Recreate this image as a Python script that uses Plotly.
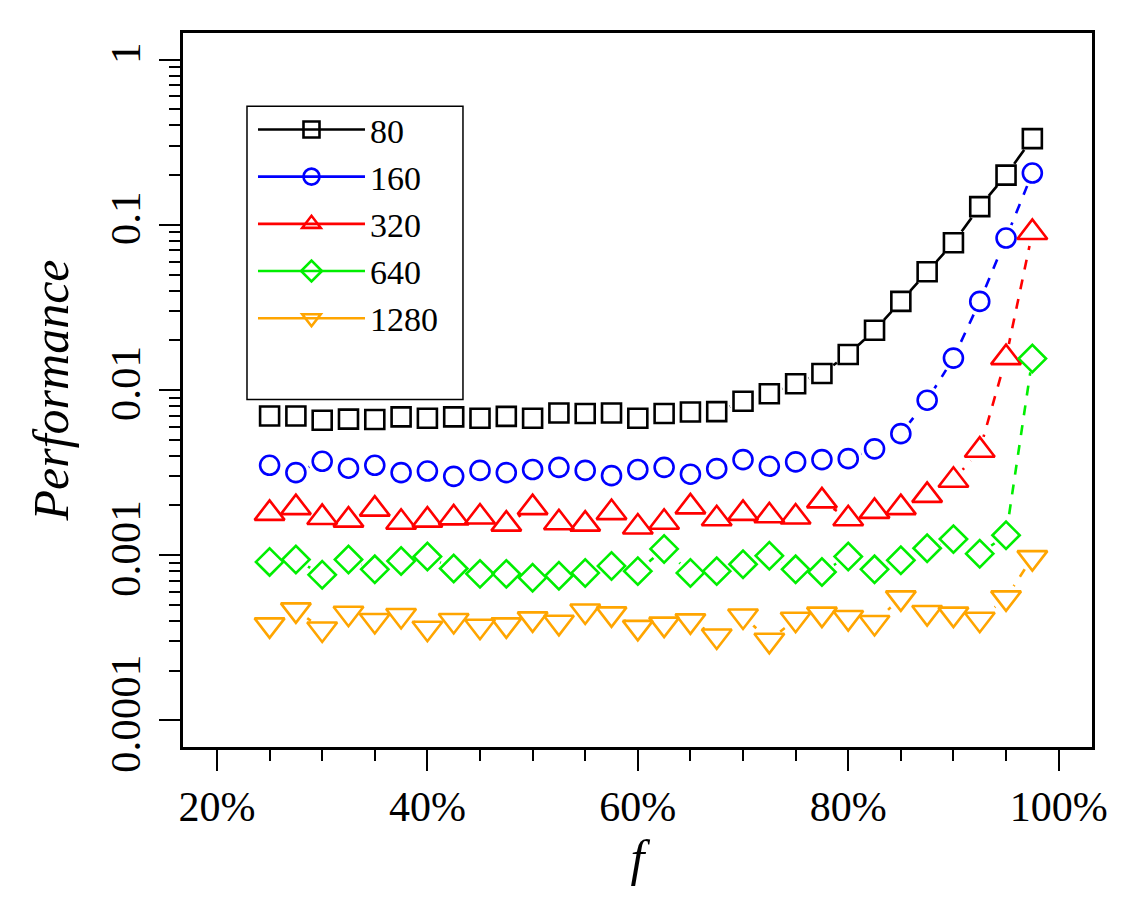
import plotly.graph_objects as go

# ---- data ----
f_values = [0.25, 0.275, 0.30, 0.325, 0.35, 0.375, 0.40, 0.425, 0.45, 0.475,
            0.50, 0.525, 0.55, 0.575, 0.60, 0.625, 0.65, 0.675, 0.70, 0.725,
            0.75, 0.775, 0.80, 0.825, 0.85, 0.875, 0.90, 0.925, 0.95, 0.975]

perf_80 = [0.00696, 0.00696, 0.00656, 0.00666, 0.00663, 0.00687, 0.00674, 0.00687, 0.00674, 0.00692,
           0.00674, 0.00726, 0.00720, 0.00726, 0.00674, 0.00720, 0.00736, 0.00740, 0.00855, 0.00950,
           0.01090, 0.01260, 0.01640, 0.02300, 0.03440, 0.05200, 0.07800, 0.12900, 0.20000, 0.33300]

perf_160 = [0.00350, 0.00316, 0.00370, 0.00336, 0.00350, 0.00316, 0.00323, 0.00300, 0.00326, 0.00316,
            0.00330, 0.00340, 0.00326, 0.00303, 0.00330, 0.00340, 0.00309, 0.00334, 0.00379, 0.00345,
            0.00367, 0.00379, 0.00384, 0.00440, 0.00544, 0.00867, 0.01560, 0.03440, 0.08320, 0.20600]

perf_320 = [0.00179, 0.00194, 0.00169, 0.00163, 0.00190, 0.00158, 0.00163, 0.00168, 0.00170, 0.00154,
            0.00194, 0.00157, 0.00154, 0.00181, 0.00148, 0.00158, 0.00196, 0.00166, 0.00179, 0.00173,
            0.00170, 0.00213, 0.00166, 0.00184, 0.00194, 0.00230, 0.00284, 0.00432, 0.01570, 0.09000]

perf_640 = [0.00091, 0.00094, 0.00076, 0.00094, 0.00082, 0.00092, 0.00098, 0.00083, 0.00077, 0.00077,
            0.00073, 0.00075, 0.00078, 0.00086, 0.00080, 0.00109, 0.00078, 0.00080, 0.00088, 0.00099,
            0.00082, 0.00079, 0.00098, 0.00082, 0.00093, 0.00110, 0.00125, 0.00102, 0.00132, 0.01550]

perf_1280 = [0.000378, 0.000466, 0.000357, 0.000445, 0.000402, 0.000431, 0.000361, 0.000402, 0.000371, 0.000378,
             0.000411, 0.000392, 0.000459, 0.000441, 0.000365, 0.000382, 0.000400, 0.000324, 0.000428, 0.000305,
             0.000409, 0.000439, 0.000419, 0.000391, 0.000551, 0.000449, 0.000439, 0.000409, 0.000551, 0.000966]

series_names = ["80", "160", "320", "640", "1280"]
series_values = [perf_80, perf_160, perf_320, perf_640, perf_1280]
series_colors = ["#000000", "#0000FF", "#FF0000", "#00EE00", "#FFA500"]
series_symbols = ["square", "circle", "triangle-up", "diamond", "triangle-down"]
series_sizes = [19, 19, 26, 21, 26]
series_dash = ["solid", "10px,10px", "10px,10px", "10px,10px", "10px,10px"]

x_tick_vals = [0.2, 0.4, 0.6, 0.8, 1.0]
x_tick_text = ["20%", "40%", "60%", "80%", "100%"]
x_minor_vals = [0.25, 0.30, 0.35, 0.45, 0.50, 0.55, 0.65, 0.70, 0.75, 0.85, 0.90, 0.95]
y_tick_vals = [0.0001, 0.001, 0.01, 0.1, 1]
y_tick_text = ["0.0001", "0.001", "0.01", "0.1", "1"]
y_minor_vals = [k * 10.0 ** e for e in range(-4, 0) for k in range(2, 10)]

FONT = "Liberation Serif, Times New Roman, serif"

fig = go.Figure()

# lines
for name, vals, col, dash in zip(series_names, series_values, series_colors, series_dash):
    fig.add_trace(go.Scatter(x=f_values, y=vals, mode="lines",
                             line=dict(color=col, width=2.6, dash=dash),
                             showlegend=False, hoverinfo="skip"))
# white gaps around points (type "b" look)
for vals in series_values:
    fig.add_trace(go.Scatter(x=f_values, y=vals, mode="markers",
                             marker=dict(symbol="circle", size=28, color="white",
                                         line=dict(width=0)),
                             showlegend=False, hoverinfo="skip"))
# open markers
for name, vals, col, sym, sz in zip(series_names, series_values, series_colors,
                                    series_symbols, series_sizes):
    fig.add_trace(go.Scatter(x=f_values, y=vals, mode="markers", name=name,
                             marker=dict(symbol=sym + "-open", size=sz, color=col,
                                         line=dict(width=2.6, color=col)),
                             showlegend=False))
# legend entries (solid line through marker)
for name, col, sym in zip(series_names, series_colors, series_symbols):
    fig.add_trace(go.Scatter(x=[None], y=[None], mode="lines+markers", name=name,
                             line=dict(color=col, width=2.6),
                             marker=dict(symbol=sym + "-open", size=16, color=col,
                                         line=dict(width=2.6, color=col))))

fig.update_layout(
    width=1125, height=900,
    margin=dict(l=183, r=33, t=33, b=153),
    plot_bgcolor="white", paper_bgcolor="white",
    font=dict(family=FONT, color="black", size=43),
    legend=dict(x=0.077, y=0.905, xanchor="left", yanchor="top",
                bgcolor="rgba(0,0,0,0)", borderwidth=0,
                font=dict(family=FONT, size=34, color="black"),
                itemwidth=107, tracegroupgap=0),
    shapes=[dict(type="rect", xref="paper", yref="paper",
                 x0=0.0704, x1=0.3080, y0=0.4867, y1=0.8974,
                 line=dict(color="black", width=1.5))],
)

fig.update_xaxes(
    range=[0.1677, 1.0317], showgrid=False, zeroline=False,
    showline=True, mirror=True, linecolor="black", linewidth=2.5,
    ticks="outside", ticklen=21, tickwidth=2, tickcolor="black",
    tickvals=x_tick_vals, ticktext=x_tick_text,
    tickfont=dict(family=FONT, size=42, color="black"),
    minor=dict(tickvals=x_minor_vals, ticks="outside", ticklen=11,
               tickwidth=2, tickcolor="black", showgrid=False),
    title=dict(text="<i>f</i>", font=dict(family=FONT, size=50, color="black"),
               standoff=4),
)
fig.update_yaxes(
    type="log", range=[-4.162, 0.162], showgrid=False, zeroline=False,
    showline=True, mirror=True, linecolor="black", linewidth=2.5,
    ticks="outside", ticklen=21, tickwidth=2, tickcolor="black",
    tickvals=y_tick_vals, ticktext=y_tick_text, tickangle=-90,
    ticklabelstandoff=2,
    tickfont=dict(family=FONT, size=43, color="black"),
    minor=dict(tickvals=y_minor_vals, ticks="outside", ticklen=11,
               tickwidth=2, tickcolor="black", showgrid=False),
    title=dict(text="<i>Performance</i>", font=dict(family=FONT, size=50, color="black"),
               standoff=18),
)

fig.write_html("out.html")
